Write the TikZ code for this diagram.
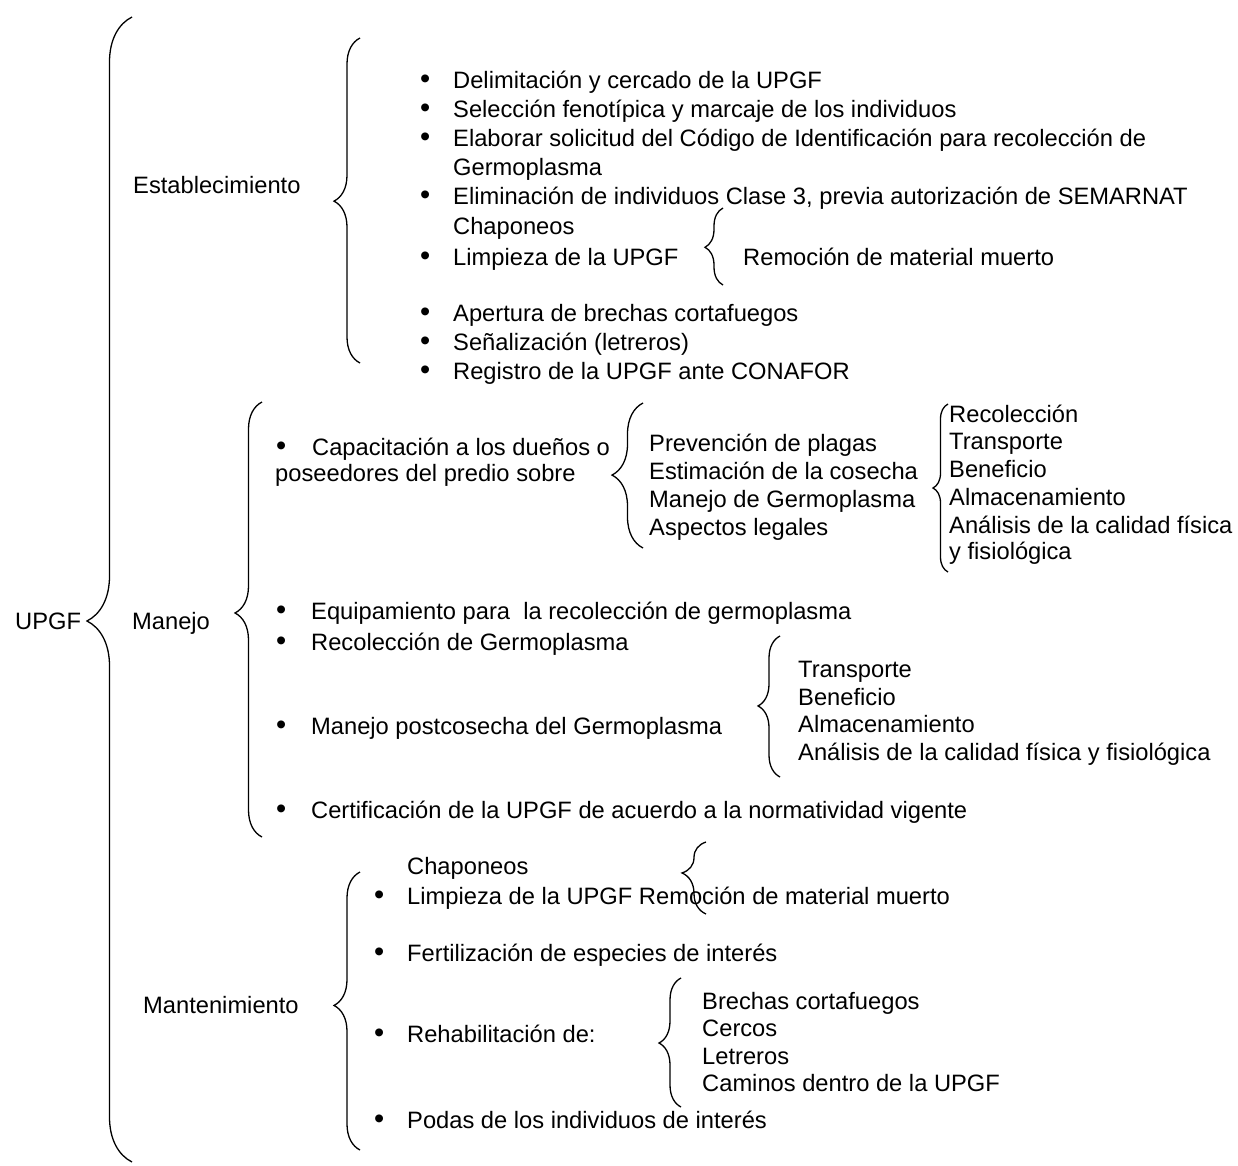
\documentclass[tikz,border=0pt]{standalone}
\usepackage{fontspec}
\setmainfont{Liberation Sans}
\usetikzlibrary{decorations.pathreplacing}
\tikzset{
  txt/.style={anchor=mid west, inner sep=0pt, yshift=-6pt},
  bul/.style={anchor=mid west, inner sep=0pt, yshift=-6pt, font=\fontsize{29}{29}\selectfont},
  brc/.style 2 args={decorate, line width=1.3pt,
    decoration={brace, amplitude=#1pt, aspect=#2}},
}

\begin{document}
\begin{tikzpicture}[x=1pt, y=-1pt, font=\fontsize{23.7}{28}\selectfont]
    \useasboundingbox (0,0) rectangle (1238,1165);

    % main branches
    \node[txt] (upgf) at (15,621) {UPGF};
    \node[txt] (est) at (133,185) {Establecimiento};
    \node[txt] (man) at (132,621) {Manejo};
    \node[txt] (mant) at (143,1005) {Mantenimiento};
    \coordinate (upgf-t) at (132,17);
    \coordinate (upgf-b) at (132,1162);
    \draw[brc={45}{0.4725}] (upgf-b) -- (upgf-t);

    % Establecimiento
    \node[bul] (e1b) at (420,80) {•};
    \node[txt] (e1) at (453,80) {Delimitación y cercado de la UPGF};
    \node[bul] (e2b) at (420,109) {•};
    \node[txt] (e2) at (453,109) {Selección fenotípica y marcaje de los individuos};
    \node[bul] (e3b) at (420,138) {•};
    \node[txt] (e3) at (453,138) {Elaborar solicitud del Código de Identificación para recolección de};
    \node[txt] (e3c) at (453,167) {Germoplasma};
    \node[bul] (e4b) at (420,196) {•};
    \node[txt] (e4) at (453,196) {Eliminación de individuos Clase 3, previa autorización de SEMARNAT};
    \node[txt] (chap1) at (453,226) {Chaponeos};
    \node[bul] (e5b) at (420,257) {•};
    \node[txt] (e5) at (453,257) {Limpieza de la UPGF};
    \node[txt] (rem1) at (743,257) {Remoción de material muerto};
    \node[bul] (e6b) at (420,313) {•};
    \node[txt] (e6) at (453,313) {Apertura de brechas cortafuegos};
    \node[bul] (e7b) at (420,342) {•};
    \node[txt] (e7) at (453,342) {Señalización (letreros)};
    \node[bul] (e8b) at (420,371) {•};
    \node[txt] (e8) at (453,371) {Registro de la UPGF ante CONAFOR};
    \coordinate (est-t) at (360,38);
    \coordinate (est-b) at (360,363);
    \draw[brc={26}{0.498}] (est-b) -- (est-t);
    \coordinate (limp-t) at (723,208);
    \coordinate (limp-b) at (723,285);
    \draw[brc={18}{0.49}] (limp-b) -- (limp-t);

    % Manejo
    \node[bul] (capb) at (276,447) {•};
    \node[txt] (cap) at (312,447) {Capacitación a los dueños o};
    \node[txt] (cap2) at (275,473) {poseedores del predio sobre};
    \node[txt] (t1) at (649,443) {Prevención de plagas};
    \node[txt] (t2) at (649,471) {Estimación de la cosecha};
    \node[txt] (t3) at (649,499) {Manejo de Germoplasma};
    \node[txt] (t4) at (649,527) {Aspectos legales};
    \node[txt] (r1) at (949,414) {Recolección};
    \node[txt] (r2) at (949,441) {Transporte};
    \node[txt] (r3) at (949,469) {Beneficio};
    \node[txt] (r4) at (949,497) {Almacenamiento};
    \node[txt] (r5) at (949,525) {Análisis de la calidad física};
    \node[txt] (r6) at (949,551) {y fisiológica};
    \node[bul] (m1b) at (276,611) {•};
    \node[txt] (m1) at (311,611) {Equipamiento para \ la recolección de germoplasma};
    \node[bul] (m2b) at (276,642) {•};
    \node[txt] (m2) at (311,642) {Recolección de Germoplasma};
    \node[bul] (m3b) at (276,726) {•};
    \node[txt] (m3) at (311,726) {Manejo postcosecha del Germoplasma};
    \node[bul] (m4b) at (276,810) {•};
    \node[txt] (m4) at (311,810) {Certificación de la UPGF de acuerdo a la normatividad vigente};
    \node[txt] (p1) at (798,669) {Transporte};
    \node[txt] (p2) at (798,697) {Beneficio};
    \node[txt] (p3) at (798,724) {Almacenamiento};
    \node[txt] (p4) at (798,752) {Análisis de la calidad física y fisiológica};
    \coordinate (man-t) at (262,402);
    \coordinate (man-b) at (262,837);
    \draw[brc={27}{0.515}] (man-b) -- (man-t);
    \coordinate (cap-t) at (643,403);
    \coordinate (cap-b) at (643,548);
    \draw[brc={31}{0.503}] (cap-b) -- (cap-t);
    \coordinate (tem-t) at (948,404);
    \coordinate (tem-b) at (948,572);
    \draw[brc={15}{0.5}] (tem-b) -- (tem-t);
    \coordinate (post-t) at (780,636);
    \coordinate (post-b) at (780,777);
    \draw[brc={22}{0.504}] (post-b) -- (post-t);

    % Mantenimiento
    \node[txt] (chap2) at (407,866) {Chaponeos};
    \node[bul] (n1b) at (374,896) {•};
    \node[txt] (n1) at (407,896) {Limpieza de la UPGF Remoción de material muerto};
    \node[bul] (n2b) at (374,953) {•};
    \node[txt] (n2) at (407,953) {Fertilización de especies de interés};
    \node[bul] (n3b) at (374,1034) {•};
    \node[txt] (n3) at (407,1034) {Rehabilitación de:};
    \node[bul] (n4b) at (374,1120) {•};
    \node[txt] (n4) at (407,1120) {Podas de los individuos de interés};
    \node[txt] (h1) at (702,1001) {Brechas cortafuegos};
    \node[txt] (h2) at (702,1028) {Cercos};
    \node[txt] (h3) at (702,1056) {Letreros};
    \node[txt] (h4) at (702,1083) {Caminos dentro de la UPGF};
    \coordinate (mant-t) at (360,872);
    \coordinate (mant-b) at (360,1150);
    \draw[brc={26}{0.52}] (mant-b) -- (mant-t);
    \coordinate (chap-t) at (706,842);
    \coordinate (chap-b) at (706,914);
    \draw[brc={24}{0.57}] (chap-b) -- (chap-t);
    \coordinate (reh-t) at (681,978);
    \coordinate (reh-b) at (681,1107);
    \draw[brc={22}{0.496}] (reh-b) -- (reh-t);
\end{tikzpicture}
\end{document}
